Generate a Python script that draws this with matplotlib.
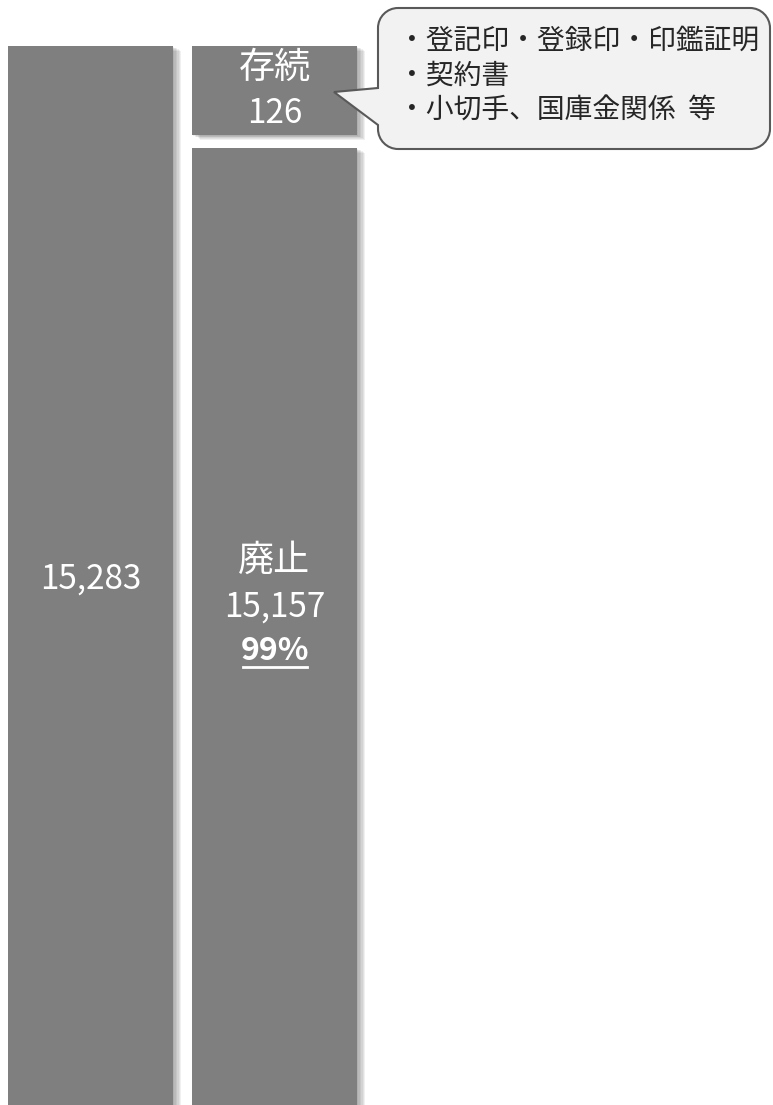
import matplotlib
matplotlib.use("Agg")
import matplotlib.pyplot as plt
import matplotlib.patheffects as pe
from matplotlib.path import Path
from matplotlib.patches import PathPatch

plt.rcParams['font.family'] = ['Noto Sans CJK JP', 'DejaVu Sans']

# data
total = 15283
kept_label = "存続"
kept = 126
abolished_label = "廃止"
abolished = 15157
note_lines = ["・登記印・登録印・印鑑証明", "・契約書", "・小切手、国庫金関係  等"]

pct = round(abolished / total * 100)

# the small segment is drawn at a fixed visible height (schematic, like the original)
seg_small = total * 0.084
seg_gap = total * 0.0123
seg_big = total - seg_small - seg_gap

bar_color = "#7f7f7f"
W, H = 773, 1105
fig = plt.figure(figsize=(W / 100, H / 100), dpi=100)
ax = fig.add_axes([0, 0, 1, 1])
ax.set_xlim(-0.492, 3.709)
ax.set_ylim(0, total * 1.0434)
ax.axis("off")

shadow = [pe.SimplePatchShadow(offset=(k, -0.6 * k), shadow_rgbFace="k", alpha=0.06)
          for k in (1, 2, 3, 4, 5, 6)] + [pe.Normal()]

bars = []
bars += ax.bar([0], [total], width=0.897, color=bar_color).patches
bars += ax.bar([1], [seg_big], width=0.897, color=bar_color).patches
bars += ax.bar([1], [seg_small], bottom=[seg_big + seg_gap], width=0.897, color=bar_color).patches
for b in bars:
    b.set_path_effects(shadow)

def label(x, y, s, dy, size, weight="normal"):
    return ax.annotate(s, (x, y), xytext=(0, dy), textcoords="offset pixels",
                       ha="center", va="center", color="white", fontsize=size,
                       fontweight=weight)

# left bar
label(0, total / 2, f"{total:,}", -4, 24)

# small segment
yc = seg_big + seg_gap + seg_small / 2
label(1, yc, kept_label, 22, 26)
label(1, yc, f"{kept:,}", -23, 24)

# big segment
yc = seg_big / 2
label(1, yc, abolished_label, 66, 26)
label(1, yc, f"{abolished:,}", 19, 24)
label(1, yc, f"{pct}%", -25, 23, "bold")
ax.plot([0.826, 1.174], [yc - 41 * 14.43, yc - 41 * 14.43], color="white", lw=2)

# callout (pixel coords overlay)
ov = fig.add_axes([0, 0, 1, 1])
ov.set_xlim(0, W)
ov.set_ylim(H, 0)
ov.axis("off")
ov.patch.set_alpha(0)

x0, x1, y0, y1, r = 378, 770, 8, 149, 20
tip = (334, 92)
k = 0.45
verts = [
    (x0 + r, y0), (x1 - r, y0),
    (x1 - r * k, y0), (x1, y0 + r * k), (x1, y0 + r),
    (x1, y1 - r),
    (x1, y1 - r * k), (x1 - r * k, y1), (x1 - r, y1),
    (x0 + r, y1),
    (x0 + r * k, y1), (x0, y1 - r * k), (x0, y1 - r),
    (x0, 125), tip, (x0, 88),
    (x0, y0 + r),
    (x0, y0 + r * k), (x0 + r * k, y0), (x0 + r, y0),
]
codes = [Path.MOVETO, Path.LINETO,
         Path.CURVE4, Path.CURVE4, Path.CURVE4,
         Path.LINETO,
         Path.CURVE4, Path.CURVE4, Path.CURVE4,
         Path.LINETO,
         Path.CURVE4, Path.CURVE4, Path.CURVE4,
         Path.LINETO, Path.LINETO, Path.LINETO,
         Path.LINETO,
         Path.CURVE4, Path.CURVE4, Path.CURVE4]
ov.add_patch(PathPatch(Path(verts, codes), facecolor="#f2f2f2", edgecolor="#595959", lw=1.5))

for i, line in enumerate(note_lines):
    ov.text(398, 41 + 35 * i, line, ha="left", va="center", fontsize=20, color="#262626")

fig.savefig("out.png", dpi=100)
